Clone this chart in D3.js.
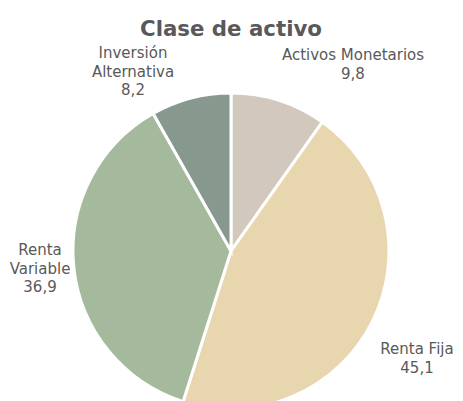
<!DOCTYPE html>
<html>
<head>
<meta charset="utf-8">
<script src="https://cdn.jsdelivr.net/npm/d3@7"></script>
<style>
  body { margin: 0; background: #fff; }
</style>
</head>
<body>
<div id="chart"></div>
<script>
var categories = ["Activos Monetarios", "Renta Fija", "Renta Variable", "Inversión Alternativa"];
var values = [9.8, 45.1, 36.9, 8.2];
var valueLabels = ["9,8", "45,1", "36,9", "8,2"];
var labelLines = [["Activos Monetarios"], ["Renta Fija"], ["Renta", "Variable"], ["Inversión", "Alternativa"]];

var width = 463, height = 401;
var cx = 231, cy = 251, radius = 158;
var colors = ["#d2c8bd", "#e8d6af", "#a5ba9d", "#87998e"];
var font = "Verdana, 'DejaVu Sans', sans-serif";
var color_text = "#595959";

// label anchor positions (baseline of first line), relative to pie centre
var labelPos = [[122, -191], [186, 103], [-191, 4], [-98, -193]];

var svg = d3.select("#chart").append("svg")
  .attr("width", width)
  .attr("height", height);

svg.append("text")
  .attr("x", cx)
  .attr("y", 36)
  .attr("text-anchor", "middle")
  .style("font-family", font)
  .style("font-weight", "bold")
  .style("font-size", "21.3px")
  .style("fill", color_text)
  .text("Clase de activo");

var pie = d3.pie().sort(null).value(d => d);
var arc = d3.arc().innerRadius(0).outerRadius(radius);

var g = svg.append("g").attr("transform", "translate(" + cx + "," + cy + ")");

g.selectAll("path")
  .data(pie(values))
  .enter().append("path")
  .attr("d", arc)
  .style("fill", (d, i) => colors[i])
  .style("stroke", "#fff")
  .style("stroke-width", 3);

var lineH = 18.5;
categories.forEach(function(c, i) {
  var lines = labelLines[i].concat([valueLabels[i]]);
  var t = g.append("text")
    .attr("text-anchor", "middle")
    .style("font-family", font)
    .style("font-size", "15px")
    .style("fill", color_text);
  lines.forEach(function(l, j) {
    t.append("tspan")
      .attr("x", labelPos[i][0])
      .attr("y", labelPos[i][1] + j * lineH)
      .text(l);
  });
});
</script>
</body>
</html>
